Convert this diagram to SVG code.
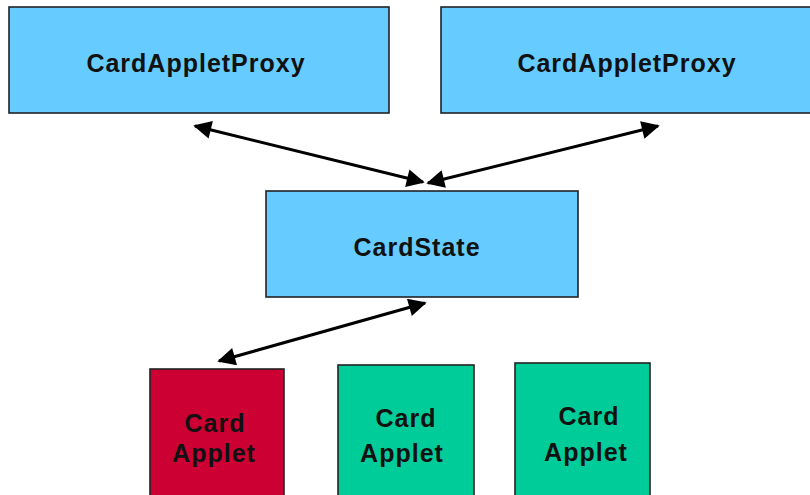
<svg xmlns="http://www.w3.org/2000/svg" width="810" height="495" viewBox="0 0 810 495">
<style>
.box{stroke:#222;stroke-width:1.6}
.blue{fill:#66CCFF}
.red{fill:#CC0033}
.green{fill:#00CC99}
text{font-family:"Liberation Sans",Arial,sans-serif;font-weight:bold;font-size:25px;fill:#111;text-anchor:middle;letter-spacing:1px}
.conn{stroke:#000;stroke-width:3;fill:none;marker-start:url(#ah);marker-end:url(#ah)}
</style>
<defs>
<marker id="ah" viewBox="0 0 10 10" refX="9" refY="5" markerWidth="8" markerHeight="6" orient="auto-start-reverse" markerUnits="strokeWidth">
<path d="M0,0 L10,5 L0,10 Z" fill="#000"/>
</marker>
</defs>
<g id="proxy1"><rect class="box blue" x="9" y="7" width="380" height="106"/><text x="196" y="72">CardAppletProxy</text></g>
<g id="proxy2"><rect class="box blue" x="441" y="7" width="370" height="106"/><text x="627" y="72">CardAppletProxy</text></g>
<g id="cardstate"><rect class="box blue" x="266" y="191" width="312" height="106"/><text x="417" y="256">CardState</text></g>
<g id="applet1"><rect class="box red" x="150" y="369" width="134" height="140"/><text x="215" y="432">Card</text><text x="214" y="462">Applet</text></g>
<g id="applet2"><rect class="box green" x="338" y="365" width="136" height="140"/><text x="406" y="427">Card</text><text x="402" y="462">Applet</text></g>
<g id="applet3"><rect class="box green" x="515" y="363" width="135" height="140"/><text x="589" y="425">Card</text><text x="586" y="461">Applet</text></g>
<g id="connectors">
<line class="conn" x1="195" y1="126" x2="423" y2="182"/>
<line class="conn" x1="658" y1="126" x2="428" y2="183"/>
<line class="conn" x1="425" y1="303" x2="219" y2="361"/>
</g>
</svg>
